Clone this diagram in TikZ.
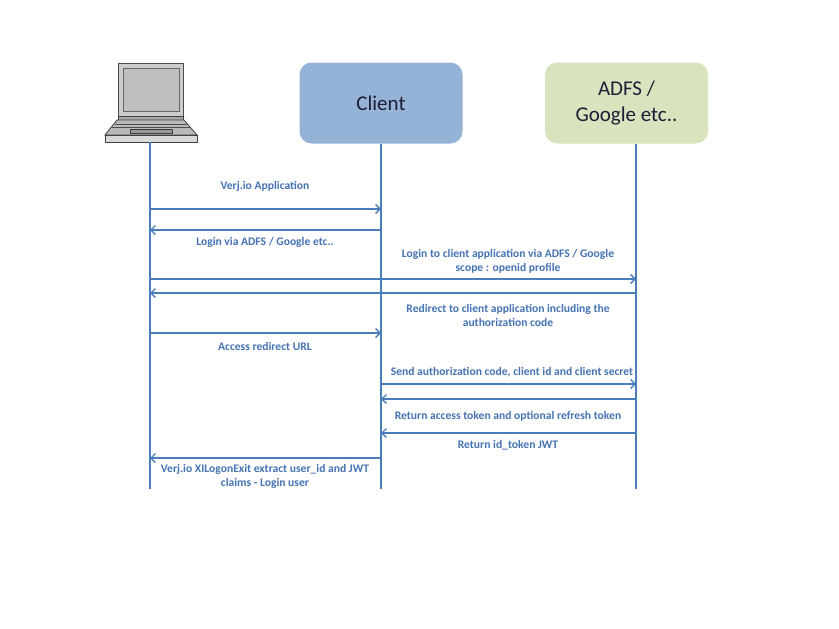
\documentclass[tikz,border=0pt]{standalone}
\usepackage{fontspec}
\setmainfont{Carlito}
\usepackage{tikz}
\usetikzlibrary{arrows.meta}
\definecolor{flow}{RGB}{74,126,187}
\definecolor{flowtext}{RGB}{70,115,180}
\definecolor{clientfill}{RGB}{149,179,215}
\definecolor{idpfill}{RGB}{215,228,189}
\definecolor{headtext}{RGB}{30,30,55}
\tikzset{
  lifeline/.style={draw=flow, line width=1.8pt},
  msg/.style={draw=flow, line width=1.6pt, -{Straight Barb[length=4.5pt,width=9pt,line width=1.4pt]}},
  msglabel/.style={text=flowtext, font=\fontsize{11.6}{14}\selectfont\bfseries, align=center, inner sep=0pt},
  header/.style={rounded corners=12pt, minimum width=163pt, minimum height=81pt, inner sep=0pt,
    text=headtext, font=\fontsize{21}{26}\selectfont, align=center}
}
\newcommand{\msg}[3]{ \draw[msg] ( #1 |- 0,#3 ) -- ( #2 |- 0,#3 );}

\begin{document}
\begin{tikzpicture}[x=1pt,y=-1pt]
        \useasboundingbox[fill=white] (0,0) rectangle (839,629);

        % laptop
        \draw[fill=gray!40, draw=black!70, line width=0.8pt] (118,63) rectangle (183,116);
        \draw[fill=gray!50, draw=black!60, line width=0.8pt] (123,68) rectangle (179,111);
        \draw[fill=gray!70, draw=black!75, line width=0.8pt] (118,116) rectangle (183,120);
        \draw[fill=gray!55, draw=black!75, line width=0.8pt] (117,120) -- (184,120) -- (197,135) -- (105,135) -- cycle;
        \draw[black!70, line width=1pt] (115,124) -- (187,124);
        \draw[black!70, line width=1pt] (112,127.5) -- (190,127.5);
        \draw[fill=gray!80, draw=black!75, line width=0.6pt] (130,129.5) rectangle (172,133);
        \draw[fill=gray!30, draw=black!75, line width=0.8pt] (105,135) rectangle (197,142);
        \coordinate (user) at (150,142);

        % headers
        \node[header, fill=clientfill] (client) at (381,103) {Client};
        \node[header, fill=idpfill] (adfs) at (626.5,103) {ADFS /\\Google etc..};
        \coordinate (app) at (381,144);
        \coordinate (idp) at (636,144);

        % lifelines
        \coordinate (userEnd) at (150,489);
        \coordinate (appEnd) at (app |- userEnd);
        \coordinate (idpEnd) at (idp |- userEnd);
        \draw[lifeline] (user) -- (userEnd);
        \draw[lifeline] (app) -- (appEnd);
        \draw[lifeline] (idp) -- (idpEnd);

        % messages
        \msg{user}{app}{209}
        \msg{app}{user}{230}
        \msg{user}{idp}{279}
        \msg{idp}{user}{293}
        \msg{user}{app}{333}
        \msg{app}{idp}{384}
        \msg{idp}{app}{399}
        \msg{idp}{app}{433}
        \msg{app}{user}{458}

        % labels
        \node[msglabel] (m1) at (265,186) {Verj.io Application};
        \node[msglabel] (m2) at (265,242) {Login via ADFS / Google etc..};
        \node[msglabel] (m3) at (508,261) {Login to client application via ADFS / Google\\scope : openid profile};
        \node[msglabel] (m4) at (508,315) {Redirect to client application including the\\authorization code};
        \node[msglabel] (m5) at (265,346) {Access redirect URL};
        \node[msglabel] (m6) at (512,372) {Send authorization code, client id and client secret};
        \node[msglabel] (m7) at (508,416) {Return access token and optional refresh token};
        \node[msglabel] (m8) at (508,445) {Return id\_token JWT};
        \node[msglabel] (m9) at (265,476) {Verj.io XILogonExit extract user\_id and JWT\\claims - Login user};
    \end{tikzpicture}
\end{document}
